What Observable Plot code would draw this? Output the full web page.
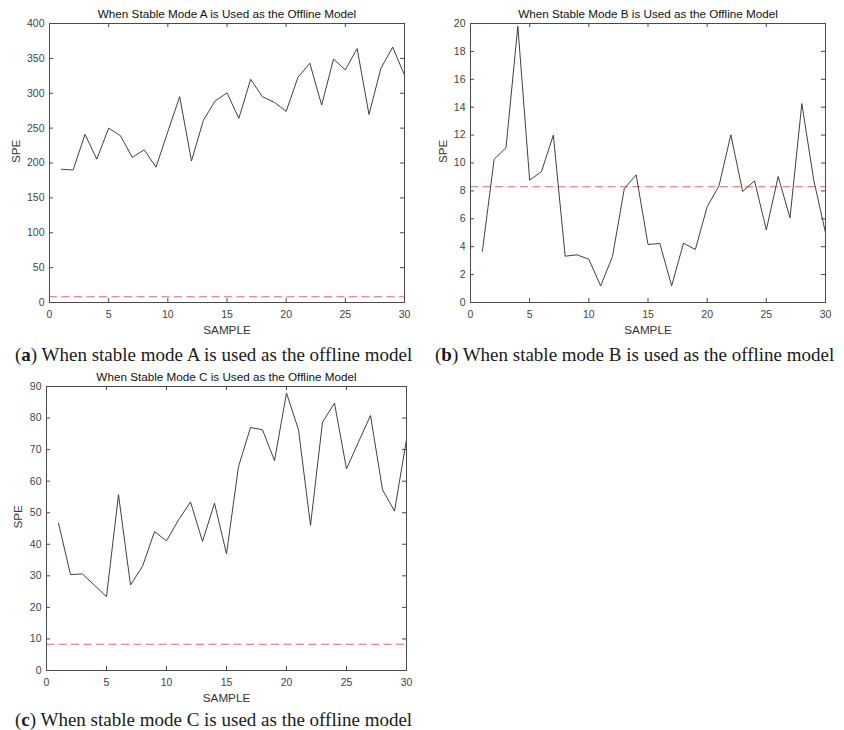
<!DOCTYPE html>
<html>
<head>
<meta charset="utf-8">
<script src="https://cdn.jsdelivr.net/npm/d3@7"></script>
<script src="https://cdn.jsdelivr.net/npm/@observablehq/plot@0.6"></script>
<style>
  html, body { margin: 0; padding: 0; background: #fff; }
  #page { position: relative; width: 844px; height: 730px; overflow: hidden; }
  .panel { position: absolute; }
  .caption {
    position: absolute;
    font-family: "Liberation Serif", "DejaVu Serif", serif;
    font-size: 19px;
    color: #1a1a1a;
    white-space: nowrap;
    line-height: 1;
  }
  .caption b { font-weight: bold; }
</style>
</head>
<body>
<div id="page"></div>
<script>
// Sample index shared by all three monitoring runs
const samples = [1, 2, 3, 4, 5, 6, 7, 8, 9, 10, 11, 12, 13, 14, 15, 16, 17, 18, 19, 20, 21, 22, 23, 24, 25, 26, 27, 28, 29, 30];

// SPE statistic when stable mode A / B / C is the offline model
const speA = [191, 190, 241, 205.5, 250, 239, 208, 219, 194, 245, 295, 203, 261, 289, 300.5, 264, 320, 295, 287, 274, 323, 343, 283, 349, 333.5, 364, 269.5, 335.5, 366, 326];
const speB = [3.66, 10.27, 11.1, 19.8, 8.77, 9.39, 12.0, 3.32, 3.42, 3.1, 1.19, 3.3, 8.17, 9.15, 4.16, 4.23, 1.2, 4.25, 3.8, 6.86, 8.36, 12.02, 7.96, 8.72, 5.21, 9.03, 6.07, 14.26, 8.8, 5.0];
const speC = [46.7, 30.4, 30.6, 27, 23.4, 55.7, 27.1, 33, 44, 41.1, 47.7, 53.4, 40.9, 53, 37, 64.6, 77, 76.3, 66.5, 87.9, 76.3, 46, 78.7, 84.7, 63.9, 72.4, 80.8, 57.3, 50.5, 73.2];

// SPE control limit (same for every run)
const speLimit = 8.3;

// Axis ticks
const xTicks = [0, 5, 10, 15, 20, 25, 30];
const yTicksA = [0, 50, 100, 150, 200, 250, 300, 350, 400];
const yTicksB = [0, 2, 4, 6, 8, 10, 12, 14, 16, 18, 20];
const yTicksC = [0, 10, 20, 30, 40, 50, 60, 70, 80, 90];

// Titles and captions
const titles = [
  "When Stable Mode A is Used as the Offline Model",
  "When Stable Mode B is Used as the Offline Model",
  "When Stable Mode C is Used as the Offline Model"
];
const captions = [
  ["a", "When stable mode A is used as the offline model"],
  ["b", "When stable mode B is used as the offline model"],
  ["c", "When stable mode C is used as the offline model"]
];

const page = document.getElementById("page");

function panel({values, yTicks, title, left, top, width, height, margin, yLabelDx}) {
  const data = samples.map((s, i) => ({sample: s, spe: values[i]}));
  const innerW = width - margin.left - margin.right;
  const innerH = height - margin.top - margin.bottom;
  const tick = 4;
  const frameColor = "#4a4a4a";
  const yMax = yTicks[yTicks.length - 1];
  const innerX = xTicks.filter(t => t > 0 && t < 30);
  const innerY = yTicks.filter(t => t > 0 && t < yMax);

  const chart = Plot.plot({
    width, height,
    marginTop: margin.top, marginRight: margin.right,
    marginBottom: margin.bottom, marginLeft: margin.left,
    style: {fontFamily: "'Liberation Sans', Arial, sans-serif", fontSize: "10.5px", color: "#444", background: "#fff"},
    x: {domain: [0, 30]},
    y: {domain: [0, yMax]},
    marks: [
      // threshold
      Plot.ruleY([speLimit], {stroke: "#e5666a", strokeWidth: 1.1, strokeDasharray: "8,4.5"}),
      // SPE trace
      Plot.line(data, {x: "sample", y: "spe", stroke: "#2a2a2a", strokeWidth: 0.9}),
      // box
      Plot.frame({stroke: frameColor, strokeWidth: 1}),
      // inward ticks on all four sides
      Plot.tickX(innerX, {x: d => d, insetTop: innerH - tick, stroke: frameColor}),
      Plot.tickX(innerX, {x: d => d, insetBottom: innerH - tick, stroke: frameColor}),
      Plot.tickY(innerY, {y: d => d, insetRight: innerW - tick, stroke: frameColor}),
      Plot.tickY(innerY, {y: d => d, insetLeft: innerW - tick, stroke: frameColor}),
      // tick labels
      Plot.axisX(xTicks, {tickSize: 0, tickPadding: 8, label: null, fill: "#444"}),
      Plot.axisY(yTicks, {tickSize: 0, tickPadding: 5, label: null, fill: "#444"}),
      // axis titles
      Plot.text(["SAMPLE"], {frameAnchor: "bottom", lineAnchor: "middle", dy: 28, fontSize: 11.7, fill: "#333"}),
      Plot.text(["SPE"], {frameAnchor: "left", lineAnchor: "middle", rotate: -90, dx: yLabelDx, fontSize: 11.7, fill: "#333"}),
      // panel title
      Plot.text([title], {frameAnchor: "top", lineAnchor: "middle", dy: -9, fontSize: 11.7, fill: "#111"})
    ]
  });

  const div = document.createElement("div");
  div.className = "panel";
  div.style.left = left + "px";
  div.style.top = top + "px";
  div.appendChild(chart);
  page.appendChild(div);
}

panel({values: speA, yTicks: yTicksA, title: titles[0], left: 0, top: 0, width: 420, height: 345,
  margin: {top: 23, right: 16, bottom: 43, left: 49}, yLabelDx: -33});
panel({values: speB, yTicks: yTicksB, title: titles[1], left: 420, top: 0, width: 424, height: 345,
  margin: {top: 23, right: 19, bottom: 43, left: 50}, yLabelDx: -27});
panel({values: speC, yTicks: yTicksC, title: titles[2], left: 0, top: 362, width: 420, height: 345,
  margin: {top: 24, right: 14, bottom: 37, left: 46}, yLabelDx: -28});

function caption([letter, text], left, centerY) {
  const el = document.createElement("div");
  el.className = "caption";
  el.innerHTML = "(<b>" + letter + "</b>) " + text;
  el.style.left = left + "px";
  el.style.top = (centerY - 10) + "px";
  page.appendChild(el);
}
caption(captions[0], 15, 355);
caption(captions[1], 435, 355);
caption(captions[2], 15, 720);
</script>
</body>
</html>
